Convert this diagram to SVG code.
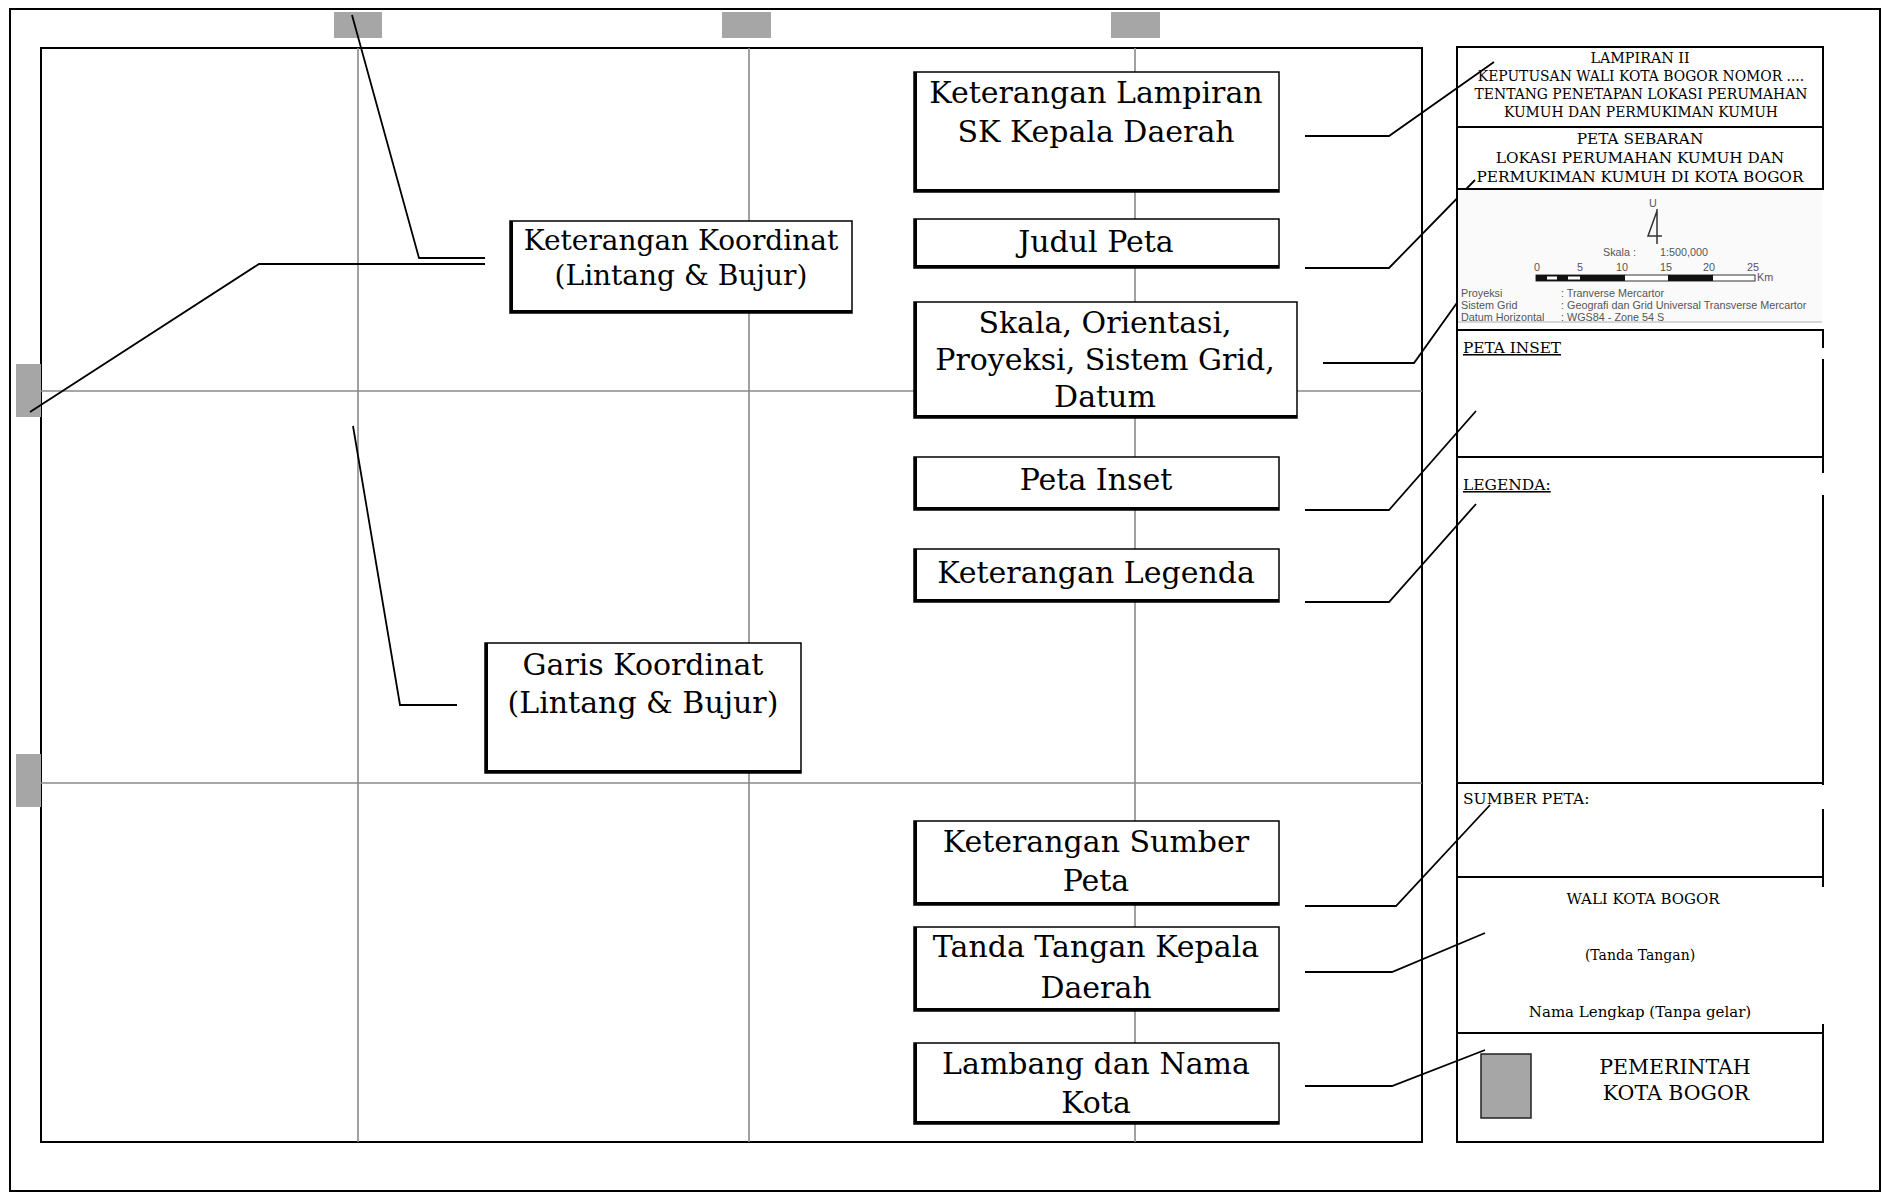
<svg xmlns="http://www.w3.org/2000/svg" width="1882" height="1193" viewBox="0 0 1882 1193">
<style>
  .frame{fill:none;stroke:#000;stroke-width:2}
  .grid{fill:none;stroke:#8a8a8a;stroke-width:1.6}
  .tick{fill:#a6a6a6;stroke:none}
  .box{fill:#fff;stroke:#000;stroke-width:1.5}
  .shadow{fill:none;stroke:#000;stroke-width:3}
  .lbl{font-family:"DejaVu Serif","Liberation Serif",serif;font-size:30px;fill:#000;text-anchor:middle}
  .lbl28{font-family:"DejaVu Serif","Liberation Serif",serif;font-size:28px;fill:#000;text-anchor:middle}
  .conn{fill:none;stroke:#000;stroke-width:1.8}
  .pline{fill:none;stroke:#000;stroke-width:2}
  .ptxt{font-family:"DejaVu Serif","Liberation Serif",serif;fill:#000}
  .mid{text-anchor:middle}
  .sm{font-family:"Liberation Sans",Arial,sans-serif;font-size:10.8px;fill:#555}
</style>

<!-- outer border and map frame -->
<rect class="frame" x="10" y="9" width="1870" height="1182" stroke-width="1.5"/>
<rect class="frame" x="41" y="48" width="1381" height="1094"/>

<!-- grid lines -->
<g id="grid">
  <line class="grid" x1="358" y1="48" x2="358" y2="1142"/>
  <line class="grid" x1="749" y1="48" x2="749" y2="1142"/>
  <line class="grid" x1="1135" y1="48" x2="1135" y2="1142"/>
  <line class="grid" x1="41" y1="391" x2="1422" y2="391"/>
  <line class="grid" x1="41" y1="783" x2="1422" y2="783"/>
</g>

<!-- coordinate ticks -->
<g id="ticks">
  <rect class="tick" x="334" y="12" width="48" height="26"/>
  <rect class="tick" x="722" y="12" width="49" height="26"/>
  <rect class="tick" x="1111" y="12" width="49" height="26"/>
  <rect class="tick" x="16" y="364" width="25" height="53"/>
  <rect class="tick" x="16" y="754" width="25" height="53"/>
</g>

<!-- connectors -->
<g id="connectors">
  <polyline class="conn" points="352,15 419,258 485,258"/>
  <polyline class="conn" points="30,412 259,264 485,264"/>
  <polyline class="conn" points="353,426 400,705 457,705"/>
  <polyline class="conn" points="1305,136 1389,136 1494,62"/>
  <polyline class="conn" points="1305,268 1389,268 1475,180"/>
  <polyline class="conn" points="1323,363 1414,363 1514,223"/>
  <polyline class="conn" points="1305,510 1389,510 1476,411"/>
  <polyline class="conn" points="1305,602 1389,602 1476,504"/>
  <polyline class="conn" points="1305,906 1396,906 1490,805"/>
  <polyline class="conn" points="1305,972 1392,972 1485,933"/>
  <polyline class="conn" points="1305,1086 1392,1086 1485,1050"/>
</g>

<!-- left nodes -->
<g id="node-keterangan-koordinat">
  <rect class="box" x="510" y="221" width="342" height="92"/>
  <path class="shadow" d="M511.5,221 V311.5 H852"/>
  <text class="lbl28" x="681" y="250">Keterangan Koordinat</text>
  <text class="lbl28" x="681" y="285">(Lintang &amp; Bujur)</text>
</g>
<g id="node-garis-koordinat">
  <rect class="box" x="485" y="643" width="316" height="130"/>
  <path class="shadow" d="M486.5,643 V771.5 H801"/>
  <text class="lbl" x="643" y="675">Garis Koordinat</text>
  <text class="lbl" x="643" y="713">(Lintang &amp; Bujur)</text>
</g>

<!-- center nodes -->
<g id="node-keterangan-lampiran">
  <rect class="box" x="914" y="72" width="365" height="120"/>
  <path class="shadow" d="M915.5,72 V190.5 H1279"/>
  <text class="lbl" x="1096" y="103">Keterangan Lampiran</text>
  <text class="lbl" x="1096" y="142">SK Kepala Daerah</text>
</g>
<g id="node-judul-peta">
  <rect class="box" x="914" y="219" width="365" height="49"/>
  <path class="shadow" d="M915.5,219 V266.5 H1279"/>
  <text class="lbl" x="1096" y="252">Judul Peta</text>
</g>
<g id="node-skala">
  <rect class="box" x="914" y="302" width="383" height="116"/>
  <path class="shadow" d="M915.5,302 V416.5 H1297"/>
  <text class="lbl" x="1105" y="333">Skala, Orientasi,</text>
  <text class="lbl" x="1105" y="370">Proyeksi, Sistem Grid,</text>
  <text class="lbl" x="1105" y="407">Datum</text>
</g>
<g id="node-peta-inset">
  <rect class="box" x="914" y="457" width="365" height="53"/>
  <path class="shadow" d="M915.5,457 V508.5 H1279"/>
  <text class="lbl" x="1096" y="490">Peta Inset</text>
</g>
<g id="node-keterangan-legenda">
  <rect class="box" x="914" y="549" width="365" height="53"/>
  <path class="shadow" d="M915.5,549 V600.5 H1279"/>
  <text class="lbl" x="1096" y="583">Keterangan Legenda</text>
</g>
<g id="node-keterangan-sumber">
  <rect class="box" x="914" y="821" width="365" height="84"/>
  <path class="shadow" d="M915.5,821 V903.5 H1279"/>
  <text class="lbl" x="1096" y="852">Keterangan Sumber</text>
  <text class="lbl" x="1096" y="891">Peta</text>
</g>
<g id="node-tanda-tangan">
  <rect class="box" x="914" y="927" width="365" height="84"/>
  <path class="shadow" d="M915.5,927 V1009.5 H1279"/>
  <text class="lbl" x="1096" y="957">Tanda Tangan Kepala</text>
  <text class="lbl" x="1096" y="998">Daerah</text>
</g>
<g id="node-lambang">
  <rect class="box" x="914" y="1043" width="365" height="81"/>
  <path class="shadow" d="M915.5,1043 V1122.5 H1279"/>
  <text class="lbl" x="1096" y="1074">Lambang dan Nama</text>
  <text class="lbl" x="1096" y="1113">Kota</text>
</g>

<!-- right panel -->
<g id="panel-frame">
  <line class="pline" x1="1457" y1="47" x2="1457" y2="1142"/>
  <line class="pline" x1="1456" y1="1142" x2="1824" y2="1142"/>
  <line class="pline" x1="1823" y1="47" x2="1823" y2="189"/>
  <line class="pline" x1="1823" y1="330" x2="1823" y2="348"/>
  <line class="pline" x1="1823" y1="359" x2="1823" y2="473"/>
  <line class="pline" x1="1823" y1="495" x2="1823" y2="785"/>
  <line class="pline" x1="1823" y1="809" x2="1823" y2="887"/>
  <line class="pline" x1="1823" y1="1024" x2="1823" y2="1142"/>
</g>
<g id="panel-lampiran">
  <line class="pline" x1="1456" y1="47" x2="1824" y2="47"/>
  <line class="pline" x1="1456" y1="127" x2="1824" y2="127"/>
  <text class="ptxt mid" x="1640" y="63" font-size="14.3">LAMPIRAN II</text>
  <text class="ptxt mid" x="1641" y="81" font-size="13.9">KEPUTUSAN WALI KOTA BOGOR NOMOR ....</text>
  <text class="ptxt mid" x="1641" y="99" font-size="13.9">TENTANG PENETAPAN LOKASI PERUMAHAN</text>
  <text class="ptxt mid" x="1641" y="117" font-size="13.9">KUMUH DAN PERMUKIMAN KUMUH</text>
</g>
<g id="panel-judul">
  <line class="pline" x1="1456" y1="189" x2="1824" y2="189"/>
  <text class="ptxt mid" x="1640" y="144" font-size="15.3">PETA SEBARAN</text>
  <text class="ptxt mid" x="1640" y="163" font-size="15.3">LOKASI PERUMAHAN KUMUH DAN</text>
  <text class="ptxt mid" x="1640" y="182" font-size="15.3">PERMUKIMAN KUMUH DI KOTA BOGOR</text>
</g>
<g id="panel-skala">
  <rect x="1458" y="190" width="364" height="132" fill="#fafafa"/>
  <line x1="1458" y1="322" x2="1822" y2="322" stroke="#d6d6d6" stroke-width="2"/>
  <text class="sm" x="1649" y="207" font-size="12">U</text>
  <path d="M1657,209 V244 M1657,211 L1648,236 H1662" fill="none" stroke="#333" stroke-width="1.5"/>
  <text class="sm" x="1603" y="256" font-size="11.5" fill="#444">Skala  :</text>
  <text class="sm" x="1660" y="256" font-size="11.5" fill="#444">1:500,000</text>
  <g class="sm" font-size="9.5" text-anchor="middle">
    <text x="1537" y="271">0</text>
    <text x="1580" y="271">5</text>
    <text x="1622" y="271">10</text>
    <text x="1666" y="271">15</text>
    <text x="1709" y="271">20</text>
    <text x="1753" y="271">25</text>
  </g>
  <rect x="1536" y="275" width="219" height="6" fill="#fff" stroke="#333" stroke-width="1"/>
  <rect x="1536" y="275" width="89" height="6" fill="#111"/>
  <rect x="1547" y="276.5" width="10" height="3" fill="#fff"/>
  <rect x="1568" y="276.5" width="12" height="3" fill="#fff"/>
  <rect x="1668" y="275" width="45" height="6" fill="#111"/>
  <text class="sm" x="1757" y="281" font-size="8.5">Km</text>
  <text class="sm" x="1461" y="297">Proyeksi</text>
  <text class="sm" x="1561" y="297">: Tranverse Mercartor</text>
  <text class="sm" x="1461" y="309">Sistem Grid</text>
  <text class="sm" x="1561" y="309">: Geografi dan Grid Universal Transverse Mercartor</text>
  <text class="sm" x="1461" y="321">Datum Horizontal</text>
  <text class="sm" x="1561" y="321">: WGS84 - Zone 54 S</text>
</g>
<g id="panel-inset">
  <line class="pline" x1="1456" y1="330" x2="1824" y2="330"/>
  <text class="ptxt" x="1463" y="353" font-size="15.3" text-decoration="underline">PETA INSET</text>
</g>
<g id="panel-legenda">
  <line class="pline" x1="1456" y1="457" x2="1824" y2="457"/>
  <text class="ptxt" x="1463" y="490" font-size="15.5" text-decoration="underline">LEGENDA:</text>
</g>
<g id="panel-sumber">
  <line class="pline" x1="1456" y1="783" x2="1824" y2="783"/>
  <text class="ptxt" x="1463" y="804" font-size="15.5">SUMBER PETA:</text>
</g>
<g id="panel-ttd">
  <line class="pline" x1="1456" y1="877" x2="1824" y2="877"/>
  <text class="ptxt mid" x="1643" y="904" font-size="15">WALI KOTA BOGOR</text>
  <text class="ptxt mid" x="1640" y="960" font-size="14">(Tanda Tangan)</text>
  <text class="ptxt mid" x="1640" y="1017" font-size="15">Nama Lengkap (Tanpa gelar)</text>
</g>
<g id="panel-lambang">
  <line class="pline" x1="1456" y1="1033" x2="1824" y2="1033"/>
  <rect x="1481" y="1054" width="50" height="64" fill="#a6a6a6" stroke="#222" stroke-width="1.5"/>
  <text class="ptxt mid" x="1675" y="1074" font-size="20.5">PEMERINTAH</text>
  <text class="ptxt mid" x="1676" y="1100" font-size="20.5">KOTA BOGOR</text>
</g>
</svg>
